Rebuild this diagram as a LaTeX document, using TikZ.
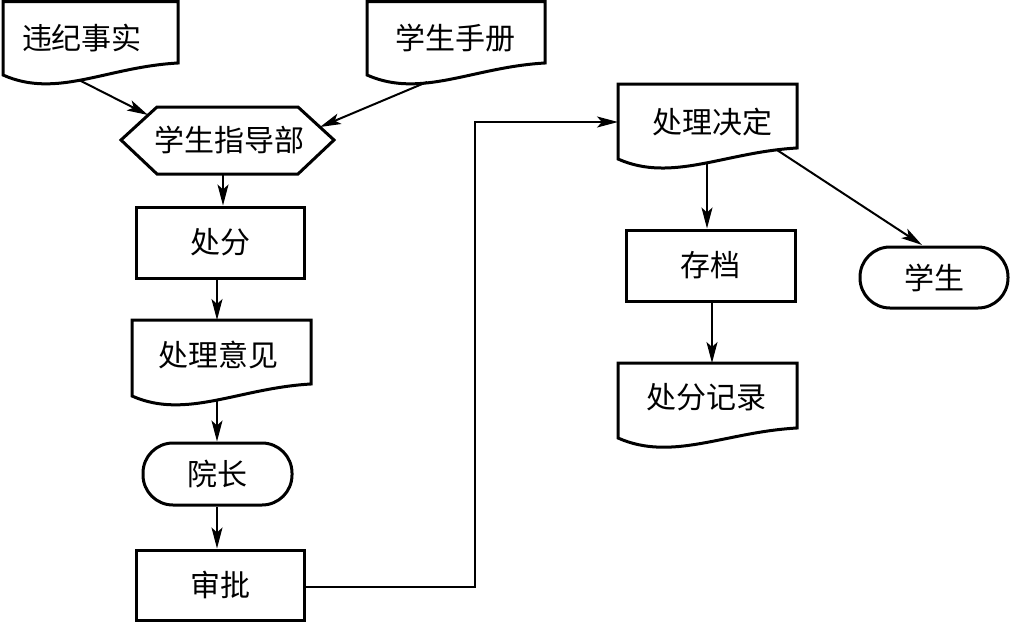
\documentclass[tikz,border=0pt]{standalone}
\usepackage{fontspec}
\newfontfamily\cjk{Noto Sans CJK SC}
\usetikzlibrary{arrows.meta,calc}
\newcommand\docshape[5]{% x0, x1, top, right-bottom y, left-bottom y
  \draw[outline] (#2,#4) -- (#2,#3) -- (#1,#3) -- (#1,#5)
    .. controls +(54,24) and +(-72,4) .. (#2,#4) -- cycle;}
\begin{document}
\begin{tikzpicture}[x=1pt,y=-1pt,
  outline/.style={line width=3pt, line join=miter},
  lbl/.style={font=\cjk\fontsize{30}{30}\selectfont, inner sep=0pt},
  procbox/.style={draw, line width=3pt, inner sep=0pt, font=\cjk\fontsize{30}{30}\selectfont},
  termbox/.style={procbox, rounded corners=30pt},
  con/.style={line width=2pt, -{Stealth[length=21pt,width=11pt,inset=5pt]}}]
\useasboundingbox (0,0) rectangle (1010,622);

% documents
\docshape{3}{178}{1.5}{63}{75}
\node[lbl] (viol) at (82,38) {违纪事实};
\docshape{367}{545}{1.5}{63}{75}
\node[lbl] (manual) at (455,38) {学生手册};
\docshape{132}{311}{320}{384}{396}
\node[lbl] (opinion) at (218,355) {处理意见};
\docshape{618}{797}{84}{148}{159}
\node[lbl] (decision) at (712,122) {处理决定};
\docshape{618}{797}{363}{428}{438}
\node[lbl] (record) at (706,397) {处分记录};

% hexagon
\draw[outline] (121,140) -- (157,107) -- (298,107) -- (334,140) -- (298,174) -- (157,174) -- cycle;
\node[lbl] (guide) at (229,140) {学生指导部};

% boxes
\node[procbox, minimum width=168pt, minimum height=71pt] (punish) at (220,242.5) {处分};
\node[termbox, minimum width=149pt, minimum height=62pt] (dean) at (217.5,474) {院长};
\node[procbox, minimum width=168pt, minimum height=70pt] (approve) at (220,585) {审批};
\node[procbox, minimum width=169pt, minimum height=71pt] (archive) at (710.5,265.5) {存档};
\node[termbox, minimum width=148pt, minimum height=61pt] (student) at (934,277.5) {学生};

% connector end points
\coordinate (violb) at (79,80);
\coordinate (manualb) at (427,82);
\coordinate (guidetl) at (148,115);
\coordinate (guidetr) at (320,127);
\coordinate (guideb) at (223,174);
\coordinate (opinionb) at (217,399);
\coordinate (opiniont) at (217,320);
\coordinate (decisionl) at (618,122);
\coordinate (decisionb) at (707,163);
\coordinate (decisionbr) at (777,150);
\coordinate (recordt) at (712,363);
\coordinate (bend) at (475,587);

% connectors
\draw[con] (violb) -- (guidetl);
\draw[con] (manualb) -- (guidetr);
\draw[con] (guideb) -- (guideb |- punish.north);
\draw[con] (punish.south -| opinionb) -- (opiniont);
\draw[con] (opinionb) -- (opinionb |- dean.north);
\draw[con] (dean.south -| opinionb) -- (opinionb |- approve.north);
\draw[con] (approve.east |- bend) -- (bend) -- (bend |- decisionl) -- (decisionl);
\draw[con] (decisionb) -- (decisionb |- archive.north);
\draw[con] (archive.south -| recordt) -- (recordt);
\draw[con] (decisionbr) -- (922,245);
\end{tikzpicture}
\end{document}
